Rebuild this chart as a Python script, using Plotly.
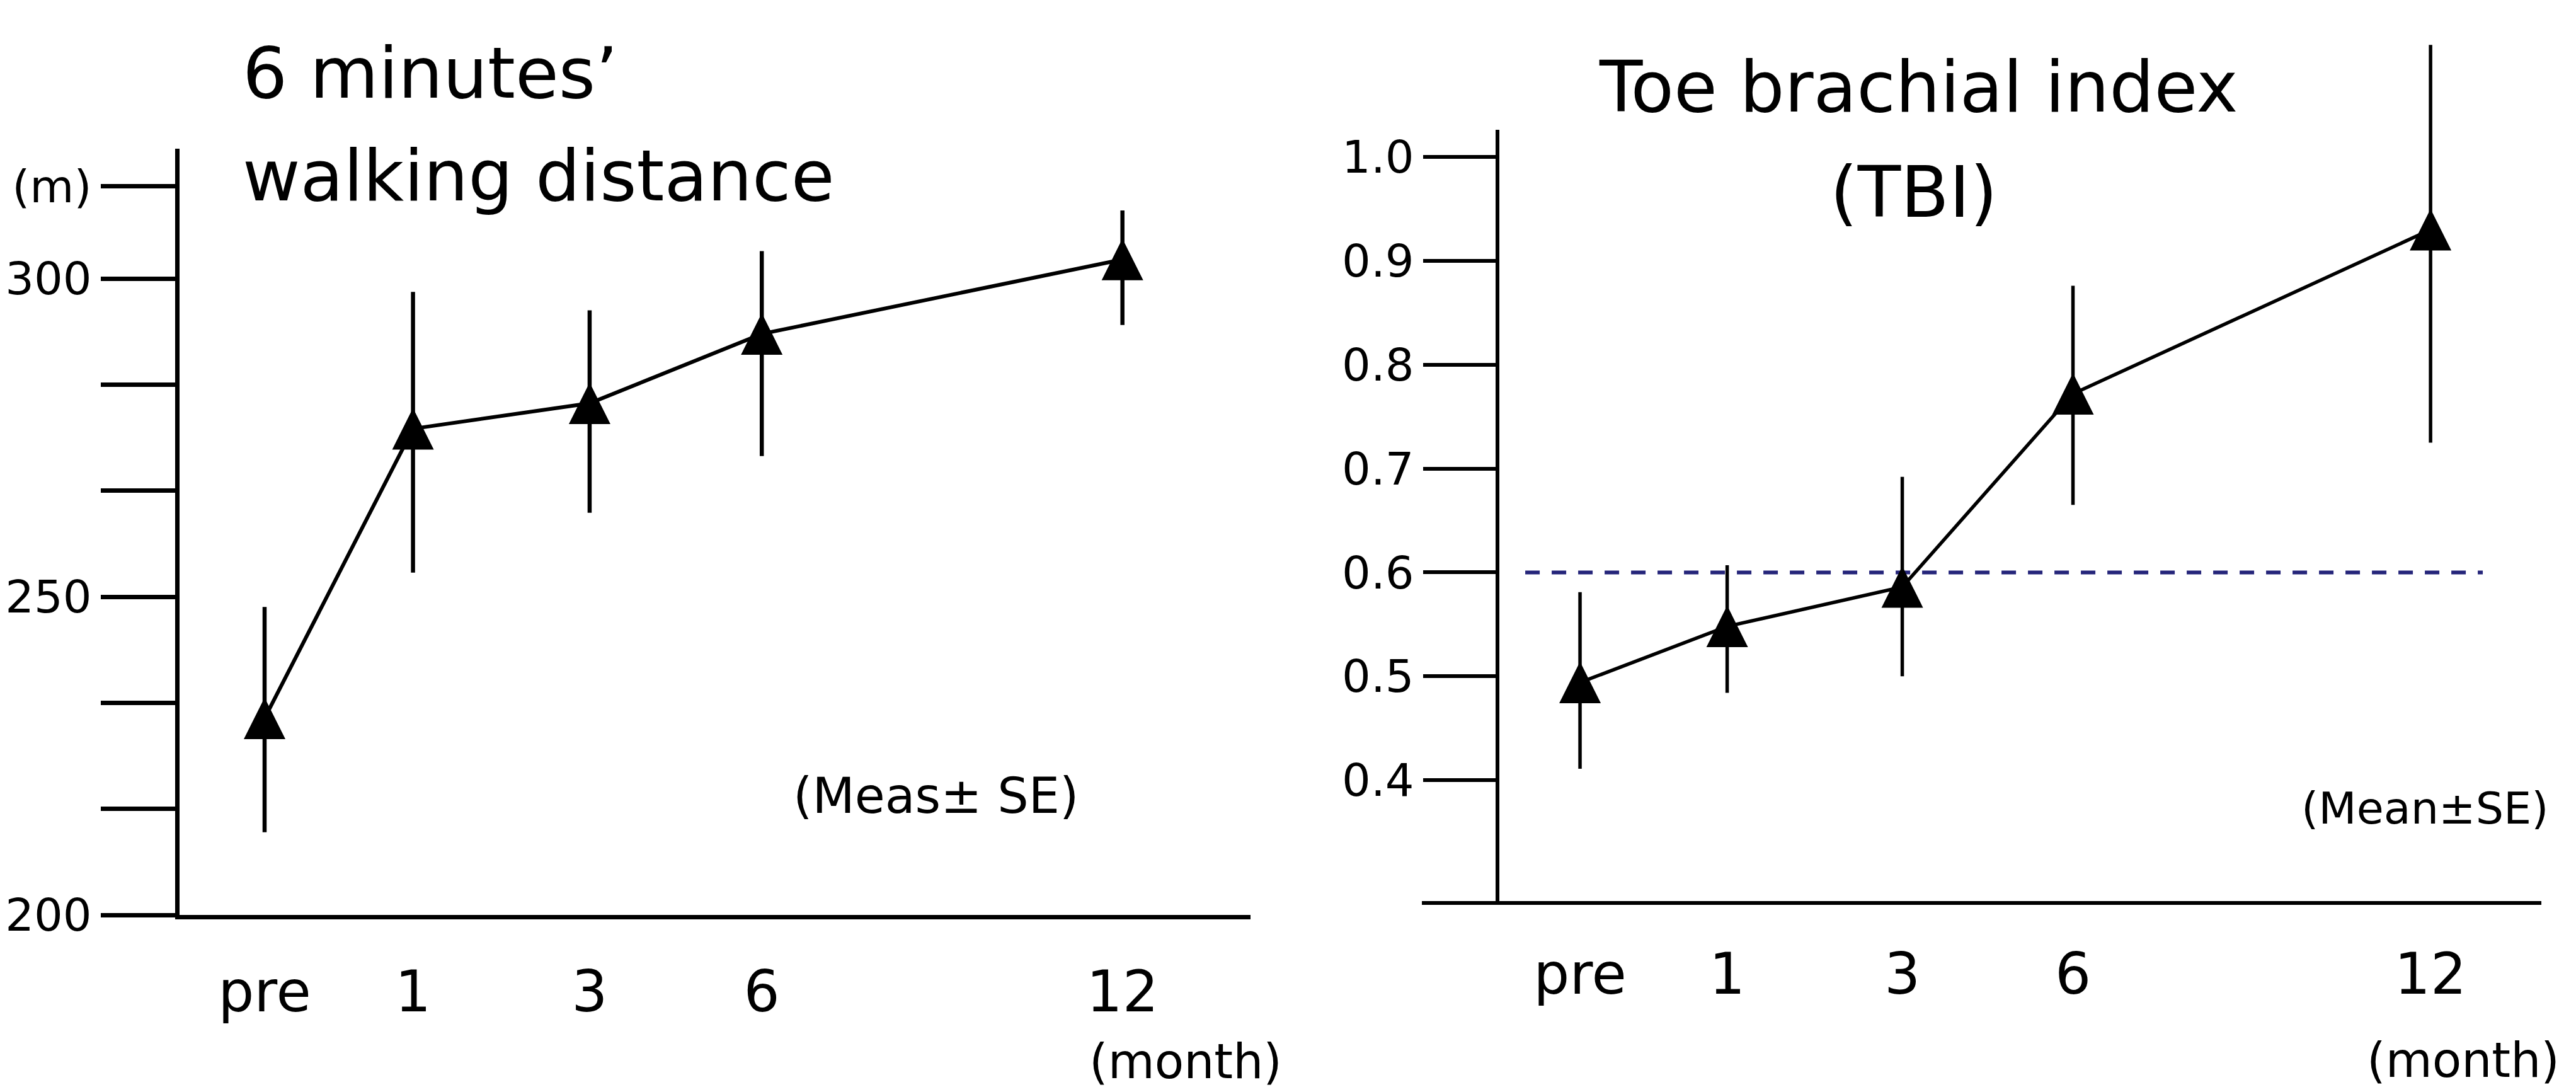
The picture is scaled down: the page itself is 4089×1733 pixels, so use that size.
import plotly.graph_objects as go

W, H = 4089, 1733

# ---------------- data ----------------
months = ["pre", "1", "3", "6", "12"]
month_pos = [0, 1, 2.19, 3.35, 5.78]          # spacing of the month categories as drawn

walk_mean  = [230.9, 276.4, 280.4, 291.3, 303.0]
walk_upper = [248.4, 297.9, 295.0, 304.3, 310.7]
walk_lower = [213.0, 253.8, 263.2, 272.1, 292.7]

tbi_mean  = [0.494, 0.548, 0.586, 0.772, 0.930]
tbi_upper = [0.581, 0.607, 0.692, 0.876, 1.108]
tbi_lower = [0.411, 0.484, 0.500, 0.665, 0.725]

walk_tickvals = [200, 216.67, 233.33, 250, 266.67, 283.33, 300, 314.5]
walk_ticktext = ["200", "", "", "250", "", "", "300", "(m)"]
tbi_tickvals = [0.4, 0.5, 0.6, 0.7, 0.8, 0.9, 1.0]
tbi_ticktext = ["0.4", "0.5", "0.6", "0.7", "0.8", "0.9", "1.0"]
tbi_threshold = 0.6

FONT = "DejaVu Sans"


def px(xp):
    return xp / W


def py(yp):
    return 1 - yp / H


def series(mean, upper, lower, xa, ya, lw, ew):
    return go.Scatter(
        x=month_pos, y=mean, xaxis=xa, yaxis=ya,
        mode="lines+markers",
        line=dict(color="black", width=lw, backoff=0),
        marker=dict(symbol="arrow-down", angle=180, standoff=33, size=66,
                    color="black", line=dict(width=0)),
        error_y=dict(type="data", symmetric=False,
                     array=[u - m for u, m in zip(upper, mean)],
                     arrayminus=[m - l for m, l in zip(mean, lower)],
                     color="black", thickness=ew, width=0),
        cliponaxis=False, showlegend=False, hoverinfo="skip",
    )


fig = go.Figure()
fig.add_trace(series(walk_mean, walk_upper, walk_lower, "x", "y", 6, 6.5))
fig.add_trace(series(tbi_mean, tbi_upper, tbi_lower, "x2", "y2", 5.5, 5.5))

tick_x_font = dict(family=FONT, size=90, color="black")
tick_y_font = dict(family=FONT, size=72, color="black")

fig.update_layout(
    width=W, height=H, margin=dict(l=0, r=0, t=0, b=0, pad=0, autoexpand=False),
    paper_bgcolor="white", plot_bgcolor="white",
    font=dict(family=FONT, color="black"),
    xaxis=dict(domain=[px(285), px(1985)], range=[-0.573, 6.643], anchor="y",
               tickmode="array", tickvals=month_pos, ticktext=months,
               showline=True, linewidth=7, linecolor="black", ticks="",
               showgrid=False, zeroline=False, tickfont=tick_x_font,
               ticklabelstandoff=38, automargin=False),
    yaxis=dict(domain=[py(1452), py(236)], range=[200, 320.4], anchor="x",
               tickmode="array", tickvals=walk_tickvals, ticktext=walk_ticktext,
               showline=True, linewidth=7, linecolor="black",
               ticks="outside", ticklen=118, tickwidth=7, tickcolor="black",
               showgrid=False, zeroline=False, tickfont=tick_y_font,
               automargin=False),
    xaxis2=dict(domain=[px(2377), px(4034)], range=[-0.561, 6.533], anchor="y2",
                tickmode="array", tickvals=month_pos, ticktext=months,
                showline=False, ticks="", showgrid=False, zeroline=False,
                tickfont=tick_x_font, ticklabelstandoff=53, automargin=False),
    yaxis2=dict(domain=[py(1433), py(60)], range=[0.2817, 1.1148], anchor="x2",
                tickmode="array", tickvals=tbi_tickvals, ticktext=tbi_ticktext,
                showline=False, ticks="outside", ticklen=117, tickwidth=6,
                tickcolor="black", showgrid=False, zeroline=False,
                tickfont=tick_y_font, automargin=False),
)

# axis frame of the right panel (x line runs past the y axis on the left)
fig.add_shape(type="line", xref="x2 domain", yref="y2 domain",
              x0=-0.0724, x1=1, y0=0, y1=0, line=dict(color="black", width=6))
fig.add_shape(type="line", xref="x2 domain", yref="y2",
              x0=0, x1=0, y0=0.2817, y1=1.0262, line=dict(color="black", width=6))
# TBI 0.6 reference line
fig.add_shape(type="line", xref="x2 domain", yref="y2", layer="below",
              x0=0.0266, x1=0.9439, y0=tbi_threshold, y1=tbi_threshold,
              line=dict(color="#25257a", width=6, dash="23px,19px"))


def note(text, x, y, size, xanchor="center"):
    fig.add_annotation(text=text, x=px(x), y=py(y), xref="paper", yref="paper",
                       xanchor=xanchor, yanchor="middle", showarrow=False,
                       font=dict(family=FONT, size=size, color="black"))


note("6 minutes\u2019", 383, 116, 112, "left")
note("walking distance", 383, 279, 112, "left")
note("Toe brachial index", 3045, 138, 112)
note("(TBI)", 3038, 305, 112)
note("(Meas\u00b1 SE)", 1486, 1263, 78)
note("(Mean\u00b1SE)", 3849, 1283, 70)
note("(month)", 1882, 1684, 76)
note("(month)", 3910, 1682, 76)

fig.write_html("out.html", config={"displayModeBar": False},
               post_script="document.body.style.margin='0';")
